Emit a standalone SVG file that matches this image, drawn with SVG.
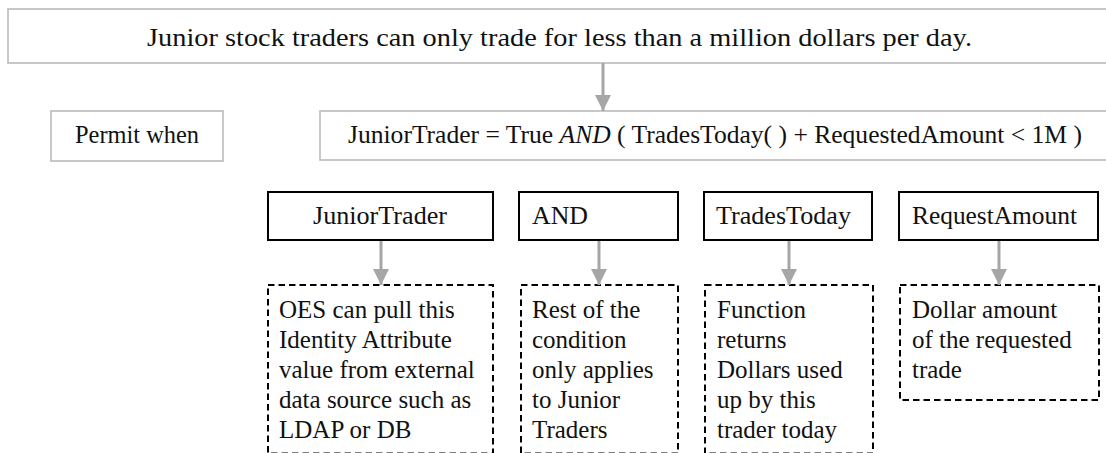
<svg xmlns="http://www.w3.org/2000/svg" width="1106" height="453" viewBox="0 0 1106 453">
<style>
text{font-family:"Liberation Serif","Times New Roman",serif;font-size:25px;fill:#111}
.gray{fill:#fff;stroke:#bfbfbf;stroke-width:1.7}
.solid{fill:#fff;stroke:#000;stroke-width:2}
.dash{fill:#fff;stroke:#000;stroke-width:2;stroke-dasharray:6.5 4}
.conn{stroke:#a6a6a6;stroke-width:3;fill:none;marker-end:url(#arr)}
</style>
<defs>
<marker id="arr" markerUnits="userSpaceOnUse" markerWidth="16" markerHeight="16" refX="16" refY="8" orient="auto">
<path d="M0,0 L16,8 L0,16 z" fill="#a6a6a6"/>
</marker>
</defs>
<rect width="1106" height="453" fill="#fff"/>
<g id="statement">
<rect class="gray" x="8" y="9" width="1110" height="54"/>
<text x="147" y="46" font-size="26" textLength="825" lengthAdjust="spacingAndGlyphs">Junior stock traders can only trade for less than a million dollars per day.</text>
</g>
<g id="permit">
<rect class="gray" x="51" y="111" width="172" height="50"/>
<text x="75" y="143" textLength="124" lengthAdjust="spacingAndGlyphs">Permit when</text>
</g>
<g id="condition">
<rect class="gray" x="320" y="111" width="800" height="49"/>
<text x="348" y="143" textLength="734" lengthAdjust="spacingAndGlyphs">JuniorTrader = True <tspan font-style="italic">AND</tspan> ( TradesToday( ) + RequestedAmount &lt; 1M  )</text>
</g>
<g id="juniortrader">
<rect class="solid" x="268" y="192" width="225" height="48"/>
<text x="313" y="224" textLength="134" lengthAdjust="spacingAndGlyphs">JuniorTrader</text>
</g>
<g id="and">
<rect class="solid" x="519" y="192" width="159" height="48"/>
<text x="532" y="224" textLength="56" lengthAdjust="spacingAndGlyphs">AND</text>
</g>
<g id="tradestoday">
<rect class="solid" x="704" y="192" width="168" height="48"/>
<text x="716" y="224" textLength="135" lengthAdjust="spacingAndGlyphs">TradesToday</text>
</g>
<g id="requestamount">
<rect class="solid" x="899" y="192" width="199" height="48"/>
<text x="912" y="224" textLength="165" lengthAdjust="spacingAndGlyphs">RequestAmount</text>
</g>
<g id="note-juniortrader">
<rect class="dash" x="268" y="285" width="225" height="168.5"/>
<text x="279" y="318">OES can pull this</text>
<text x="279" y="348">Identity Attribute</text>
<text x="279" y="378">value from external</text>
<text x="279" y="408">data source such as</text>
<text x="279" y="438">LDAP or DB</text>
</g>
<g id="note-and">
<rect class="dash" x="521" y="285" width="157" height="168.5"/>
<text x="532" y="318">Rest of the</text>
<text x="532" y="348">condition</text>
<text x="532" y="378">only applies</text>
<text x="532" y="408">to Junior</text>
<text x="532" y="438">Traders</text>
</g>
<g id="note-tradestoday">
<rect class="dash" x="705" y="285" width="168" height="168.5"/>
<text x="717" y="318">Function</text>
<text x="717" y="348">returns</text>
<text x="717" y="378">Dollars used</text>
<text x="717" y="408">up by this</text>
<text x="717" y="438">trader today</text>
</g>
<g id="note-requestamount">
<rect class="dash" x="900" y="285" width="199" height="115"/>
<text x="912" y="318">Dollar amount</text>
<text x="912" y="348">of the requested</text>
<text x="912" y="378">trade</text>
</g>
<g id="connectors">
<line class="conn" x1="603" y1="63" x2="603" y2="111"/>
<line class="conn" x1="381" y1="241" x2="381" y2="285"/>
<line class="conn" x1="599" y1="241" x2="599" y2="285"/>
<line class="conn" x1="789" y1="241" x2="789" y2="285"/>
<line class="conn" x1="999" y1="241" x2="999" y2="285"/>
</g>
</svg>
